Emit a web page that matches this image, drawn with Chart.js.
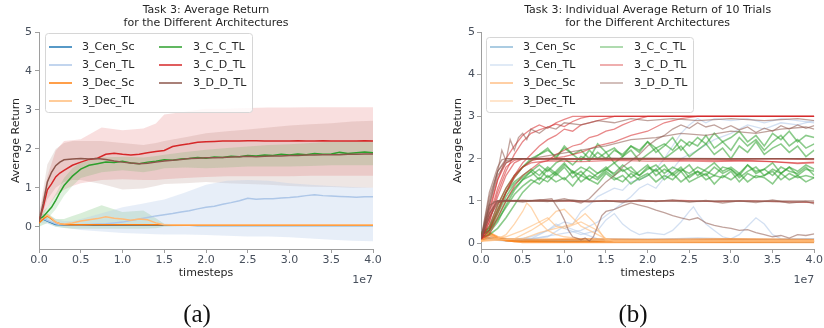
<!DOCTYPE html>
<html>
<head>
<meta charset="utf-8">
<script src="https://cdn.jsdelivr.net/npm/chart.js@4.4.1/dist/chart.umd.min.js"></script>
<style>
	html, body { margin: 0; padding: 0; background: #fff; }
	#wrap { position: relative; width: 824px; height: 328px; }
	.panel { position: absolute; top: 0; width: 412px; height: 300px; }
	.cap { position: absolute; top: 299px; width: 60px; text-align: center; font-family: 'Liberation Serif', serif; font-size: 25px; line-height: 30px; color: #111; }
</style>
</head>
<body>
<div id="wrap">
	<div class="panel" style="left:0"><canvas id="chart-a" width="412" height="300"></canvas></div>
	<div class="panel" style="left:412px"><canvas id="chart-b" width="412" height="300"></canvas></div>
	<div class="cap" style="left:167px">(a)</div>
	<div class="cap" style="left:603px">(b)</div>
</div>
<script>
// ── Data ─────────────────────────────────────────────────────────────

const NAMES  = [ '3_Cen_Sc', '3_Cen_TL', '3_Dec_Sc', '3_Dec_TL', '3_C_C_TL', '3_C_D_TL', '3_D_D_TL' ];
const COLORS = [ '#1f77b4', '#aec7e8', '#ff7f0e', '#ffbb78', '#2ca02c', '#d62728', '#8c564b' ];

const TITLE_A = [ 'Task 3: Average Return', 'for the Different Architectures' ];
const TITLE_B = [ 'Task 3: Individual Average Return of 10 Trials', 'for the Different Architectures' ];

const X_TICKS = [ 0, 0.5, 1, 1.5, 2, 2.5, 3, 3.5, 4 ];
const Y_TICKS = [ 0, 1, 2, 3, 4, 5 ];

// (a) mean curves, timesteps in units of 1e7
const X_MEAN = [
	0, 0.05, 0.1, 0.15, 0.2, 0.25, 0.3,
	0.4, 0.5, 0.6, 0.7, 0.8, 0.9, 1.0, 1.1, 1.2, 1.3,
	1.4, 1.5, 1.6, 1.7, 1.8, 1.9, 2.0, 2.1, 2.2, 2.3,
	2.4, 2.5, 2.6, 2.7, 2.8, 2.9, 3.0, 3.1, 3.2, 3.3,
	3.4, 3.5, 3.6, 3.7, 3.8, 3.9, 4.0,
];
const MEAN_CEN_SC = [
	0.2, 0.2, 0.15, 0.1, 0.06, 0.05, 0.04,
	0.04, 0.04, 0.04, 0.04, 0.04, 0.04, 0.04, 0.04, 0.04, 0.04,
	0.04, 0.04, 0.04, 0.04, 0.04, 0.03, 0.03, 0.03, 0.03, 0.03,
	0.03, 0.03, 0.03, 0.03, 0.03, 0.03, 0.03, 0.03, 0.03, 0.03,
	0.03, 0.03, 0.03, 0.03, 0.03, 0.03, 0.03,
];
const MEAN_CEN_TL = [
	0.2, 0.22, 0.16, 0.12, 0.08, 0.06, 0.05,
	0.05, 0.05, 0.06, 0.07, 0.08, 0.1, 0.12, 0.16, 0.2, 0.24,
	0.28, 0.31, 0.34, 0.38, 0.41, 0.46, 0.5, 0.53, 0.58, 0.62,
	0.67, 0.73, 0.71, 0.72, 0.72, 0.74, 0.75, 0.77, 0.8, 0.82,
	0.8, 0.79, 0.78, 0.77, 0.76, 0.77, 0.77,
];
const MEAN_DEC_SC = [
	0.1, 0.2, 0.28, 0.2, 0.12, 0.08, 0.06,
	0.05, 0.05, 0.05, 0.05, 0.05, 0.05, 0.05, 0.05, 0.05, 0.05,
	0.05, 0.05, 0.04, 0.04, 0.04, 0.04, 0.04, 0.04, 0.04, 0.04,
	0.04, 0.04, 0.04, 0.04, 0.04, 0.04, 0.04, 0.04, 0.04, 0.04,
	0.04, 0.04, 0.04, 0.04, 0.04, 0.04, 0.04,
];
const MEAN_DEC_TL = [
	0.15, 0.25, 0.3, 0.22, 0.12, 0.08, 0.07,
	0.1, 0.15, 0.18, 0.21, 0.26, 0.22, 0.2, 0.17, 0.2, 0.18,
	0.1, 0.05, 0.05, 0.05, 0.05, 0.05, 0.05, 0.05, 0.05, 0.05,
	0.05, 0.05, 0.05, 0.05, 0.05, 0.05, 0.05, 0.05, 0.05, 0.05,
	0.05, 0.05, 0.05, 0.05, 0.05, 0.05, 0.05,
];
const MEAN_C_C_TL = [
	0.2, 0.26, 0.38, 0.5, 0.68, 0.88, 1.06,
	1.3, 1.48, 1.58, 1.62, 1.66, 1.65, 1.68, 1.64, 1.62, 1.66,
	1.68, 1.72, 1.71, 1.74, 1.75, 1.78, 1.76, 1.79, 1.78, 1.81,
	1.8, 1.83, 1.82, 1.84, 1.83, 1.86, 1.84, 1.87, 1.85, 1.88,
	1.86, 1.87, 1.91, 1.88, 1.9, 1.92, 1.9,
];
const MEAN_C_D_TL = [
	0.15, 0.5, 0.95, 1.1, 1.28, 1.38, 1.45,
	1.58, 1.66, 1.73, 1.76, 1.86, 1.89, 1.86, 1.84, 1.86, 1.9,
	1.93, 1.96, 2.06, 2.1, 2.13, 2.17, 2.18, 2.19, 2.2, 2.2,
	2.2, 2.21, 2.21, 2.2, 2.2, 2.2, 2.2, 2.21, 2.2, 2.2,
	2.21, 2.2, 2.2, 2.2, 2.2, 2.21, 2.2,
];
const MEAN_D_D_TL = [
	0.12, 0.6, 1.15, 1.4, 1.57, 1.66, 1.72,
	1.74, 1.75, 1.74, 1.75, 1.73, 1.69, 1.66, 1.64, 1.62, 1.63,
	1.66, 1.69, 1.71, 1.73, 1.75, 1.76, 1.77, 1.77, 1.78, 1.79,
	1.8, 1.81, 1.8, 1.81, 1.82, 1.82, 1.83, 1.83, 1.84, 1.84,
	1.85, 1.85, 1.85, 1.86, 1.86, 1.87, 1.87,
];

// (a) shaded spread, upper / lower edges
const X_BAND = [ 0, 0.1, 0.2, 0.3, 0.4, 0.5, 0.75, 1.0, 1.25, 1.4, 1.5, 1.75, 2.0, 2.25, 2.5, 2.75, 3.0, 3.25, 3.5, 3.75, 4.0 ];
const BAND_CEN_TL_HI = [ 0.3, 0.3, 0.2, 0.15, 0.15, 0.2, 0.35, 0.5, 0.6, 0.66, 0.7, 0.88, 1.08, 1.18, 1.2, 1.18, 1.12, 1.08, 1.05, 1.02, 1.0 ];
const BAND_CEN_TL_LO = [ 0.1, 0.08, 0, -0.02, -0.05, -0.08, -0.12, -0.16, -0.18, -0.19, -0.2, -0.2, -0.21, -0.23, -0.25, -0.25, -0.27, -0.3, -0.33, -0.36, -0.37 ];
const BAND_DEC_TL_HI = [ 0.3, 0.35, 0.2, 0.2, 0.28, 0.35, 0.55, 0.38, 0.42, 0.22, 0.08, 0.06, 0.06, 0.06, 0.06, 0.06, 0.06, 0.06, 0.06, 0.06, 0.06 ];
const BAND_DEC_TL_LO = [ 0, 0.1, 0, -0.03, -0.05, -0.05, -0.05, -0.05, -0.05, -0.04, 0, 0.02, 0.02, 0.02, 0.02, 0.02, 0.02, 0.02, 0.02, 0.02, 0.02 ];
const BAND_C_C_TL_HI = [ 0.3, 0.5, 0.85, 1.25, 1.5, 1.65, 1.78, 1.8, 1.78, 1.82, 1.85, 1.92, 1.98, 2.02, 2.06, 2.1, 2.12, 2.15, 2.18, 2.2, 2.22 ];
const BAND_C_C_TL_LO = [ 0.1, 0.2, 0.45, 0.8, 1.05, 1.25, 1.4, 1.45, 1.4, 1.45, 1.5, 1.52, 1.5, 1.52, 1.55, 1.55, 1.55, 1.56, 1.58, 1.58, 1.58 ];
const BAND_C_D_TL_HI = [ 0.3, 1.3, 1.95, 2.2, 2.22, 2.25, 2.55, 2.48, 2.52, 2.65, 2.88, 2.95, 3.03, 3.03, 3.05, 3.06, 3.06, 3.07, 3.07, 3.07, 3.07 ];
const BAND_C_D_TL_LO = [ 0.05, 0.5, 0.8, 0.95, 1.05, 1.12, 1.2, 1.22, 1.2, 1.2, 1.22, 1.25, 1.28, 1.3, 1.3, 1.3, 1.3, 1.31, 1.31, 1.31, 1.31 ];
const BAND_D_D_TL_HI = [ 0.3, 1.6, 2.0, 2.15, 2.2, 2.2, 2.2, 2.15, 2.1, 2.15, 2.2, 2.3, 2.4, 2.45, 2.5, 2.55, 2.6, 2.63, 2.66, 2.7, 2.72 ];
const BAND_D_D_TL_LO = [ 0.05, 0.7, 1.0, 1.15, 1.2, 1.2, 1.1, 0.96, 0.98, 1.05, 1.1, 1.12, 1.15, 1.12, 1.1, 1.08, 1.05, 1.03, 1.02, 1.0, 1.0 ];

// (b) individual trials: [x, y] points
const TRIALS_CEN_SC = [
	[ [ 0, 0.2 ], [ 0.1, 0.12 ], [ 0.2, 0.1 ], [ 0.3, 0.09 ], [ 0.4, 0.07 ], [ 0.5, 0.04 ], [ 4.0, 0.03 ] ],
	[ [ 0, 0.15 ], [ 0.15, 0.1 ], [ 0.3, 0.06 ], [ 4.0, 0.04 ] ],
];
const TRIALS_CEN_TL = [
	[ [ 0, 0.15 ], [ 0.2, 0.1 ], [ 0.4, 0.08 ], [ 0.6, 0.15 ], [ 0.8, 0.3 ], [ 1.0, 0.5 ], [ 1.1, 0.45 ], [ 1.2, 0.75 ], [ 1.3, 0.9 ], [ 1.4, 1.1 ], [ 1.5, 1.2 ], [ 1.6, 1.3 ], [ 1.7, 1.25 ], [ 1.8, 1.45 ], [ 1.9, 1.5 ], [ 2.0, 1.6 ], [ 2.1, 1.75 ], [ 2.2, 2.0 ], [ 2.3, 2.3 ], [ 2.4, 2.6 ], [ 2.5, 2.8 ], [ 2.6, 2.95 ], [ 2.7, 2.85 ], [ 2.8, 2.95 ], [ 3.0, 2.9 ], [ 3.2, 2.95 ], [ 3.4, 2.85 ], [ 3.6, 2.95 ], [ 3.8, 2.9 ], [ 4.0, 2.85 ] ],
	[ [ 0, 0.15 ], [ 0.3, 0.1 ], [ 0.6, 0.1 ], [ 0.9, 0.2 ], [ 1.2, 0.3 ], [ 1.4, 0.5 ], [ 1.6, 0.8 ], [ 1.8, 1.1 ], [ 1.9, 1.3 ], [ 2.0, 1.4 ], [ 2.1, 1.3 ], [ 2.2, 1.55 ], [ 2.3, 1.75 ], [ 2.4, 2.0 ], [ 2.6, 2.2 ], [ 2.8, 2.45 ], [ 3.0, 2.6 ], [ 3.2, 2.8 ], [ 3.4, 2.7 ], [ 3.6, 2.85 ], [ 3.8, 2.8 ], [ 4.0, 2.9 ] ],
	[ [ 0, 0.1 ], [ 0.3, 0.05 ], [ 0.6, 0.1 ], [ 0.8, 0.3 ], [ 0.9, 0.45 ], [ 1.0, 0.35 ], [ 1.2, 0.2 ], [ 1.4, 0.3 ], [ 1.5, 0.55 ], [ 1.6, 0.7 ], [ 1.7, 0.45 ], [ 1.8, 0.3 ], [ 1.9, 0.2 ], [ 2.0, 0.25 ], [ 2.2, 0.2 ], [ 2.3, 0.3 ], [ 2.4, 0.5 ], [ 2.5, 0.75 ], [ 2.55, 0.86 ], [ 2.6, 0.7 ], [ 2.7, 0.45 ], [ 2.8, 0.3 ], [ 2.9, 0.15 ], [ 3.0, 0.1 ], [ 3.1, 0.2 ], [ 3.2, 0.4 ], [ 3.3, 0.6 ], [ 3.4, 0.45 ], [ 3.5, 0.2 ], [ 3.6, 0.1 ], [ 4.0, 0.1 ] ],
	[ [ 0, 0.1 ], [ 0.4, 0.05 ], [ 0.8, 0.15 ], [ 1.0, 0.4 ], [ 1.2, 0.25 ], [ 1.4, 0.1 ], [ 2.0, 0.08 ], [ 2.6, 0.12 ], [ 3.0, 0.1 ], [ 3.6, 0.08 ], [ 4.0, 0.1 ] ],
	[ [ 0, 0.1 ], [ 1.0, 0.08 ], [ 2.0, 0.1 ], [ 3.0, 0.08 ], [ 4.0, 0.1 ] ],
];
const TRIALS_DEC_SC = [
	[ [ 0, 0.1 ], [ 0.05, 0.15 ], [ 0.1, 0.22 ], [ 0.15, 0.18 ], [ 0.2, 0.12 ], [ 0.3, 0.06 ], [ 0.6, 0.05 ], [ 1.0, 0.07 ], [ 1.5, 0.05 ], [ 2.0, 0.06 ], [ 2.5, 0.05 ], [ 3.0, 0.07 ], [ 3.5, 0.05 ], [ 4.0, 0.06 ] ],
	[ [ 0, 0.05 ], [ 0.1, 0.18 ], [ 0.2, 0.1 ], [ 0.4, 0.04 ], [ 1.0, 0.03 ], [ 2.0, 0.04 ], [ 3.0, 0.03 ], [ 4.0, 0.04 ] ],
	[ [ 0, 0.05 ], [ 0.1, 0.12 ], [ 0.2, 0.08 ], [ 0.5, 0.02 ], [ 4.0, 0.02 ] ],
	[ [ 0, 0.1 ], [ 0.1, 0.25 ], [ 0.2, 0.15 ], [ 0.3, 0.1 ], [ 0.6, 0.08 ], [ 1.2, 0.1 ], [ 2.0, 0.08 ], [ 3.0, 0.1 ], [ 4.0, 0.08 ] ],
];
const TRIALS_DEC_TL = [
	[ [ 0, 0.05 ], [ 0.2, 0.1 ], [ 0.3, 0.2 ], [ 0.4, 0.45 ], [ 0.5, 0.75 ], [ 0.55, 0.95 ], [ 0.6, 0.85 ], [ 0.7, 0.5 ], [ 0.8, 0.3 ], [ 0.9, 0.2 ], [ 1.0, 0.15 ], [ 1.2, 0.1 ], [ 1.5, 0.05 ], [ 4.0, 0.05 ] ],
	[ [ 0, 0.05 ], [ 0.4, 0.1 ], [ 0.6, 0.3 ], [ 0.8, 0.55 ], [ 0.9, 0.75 ], [ 1.0, 0.8 ], [ 1.1, 0.6 ], [ 1.2, 0.4 ], [ 1.3, 0.3 ], [ 1.4, 0.2 ], [ 1.5, 0.1 ], [ 1.6, 0.05 ], [ 4.0, 0.05 ] ],
	[ [ 0, 0.05 ], [ 0.5, 0.1 ], [ 0.7, 0.25 ], [ 0.9, 0.35 ], [ 1.1, 0.45 ], [ 1.25, 0.7 ], [ 1.35, 0.5 ], [ 1.45, 0.2 ], [ 1.5, 0.06 ], [ 4.0, 0.06 ] ],
	[ [ 0, 0.05 ], [ 0.3, 0.15 ], [ 0.5, 0.3 ], [ 0.7, 0.5 ], [ 0.8, 0.6 ], [ 0.9, 0.4 ], [ 1.0, 0.35 ], [ 1.2, 0.5 ], [ 1.4, 0.3 ], [ 1.5, 0.1 ], [ 1.6, 0.04 ], [ 4.0, 0.04 ] ],
];
// C_C_TL trials are noisy, so they are sampled on a regular 0.1 grid
const X_TRIAL = [
	0, 0.1, 0.2, 0.3, 0.4, 0.5, 0.6, 0.7, 0.8, 0.9,
	1.0, 1.1, 1.2, 1.3, 1.4, 1.5, 1.6, 1.7, 1.8, 1.9,
	2.0, 2.1, 2.2, 2.3, 2.4, 2.5, 2.6, 2.7, 2.8, 2.9,
	3.0, 3.1, 3.2, 3.3, 3.4, 3.5, 3.6, 3.7, 3.8, 3.9, 4.0,
];
const TRIALS_C_C_TL = [
	[ 0.2, 0.3, 0.7, 1.1, 1.4, 1.55, 1.7, 1.5, 1.75, 1.6,
	  1.8, 1.55, 1.7, 1.5, 1.65, 1.8, 1.6, 1.75, 1.55, 1.7,
	  1.85, 1.6, 1.75, 1.65, 1.8, 1.55, 1.7, 1.6, 1.8, 1.65,
	  1.75, 1.55, 1.7, 1.8, 1.6, 1.75, 1.65, 1.8, 1.6, 1.75, 1.7 ],
	[ 0.15, 0.2, 0.35, 0.6, 0.9, 1.2, 1.4, 1.55, 1.45, 1.65,
	  1.5, 1.7, 1.45, 1.6, 1.5, 1.7, 1.55, 1.45, 1.65, 1.5,
	  1.6, 1.75, 1.5, 1.65, 1.45, 1.6, 1.7, 1.5, 1.6, 1.55,
	  1.7, 1.45, 1.65, 1.55, 1.6, 1.7, 1.5, 1.65, 1.55, 1.6, 1.55 ],
	[ 0.2, 0.4, 0.9, 1.3, 1.6, 1.8, 2.0, 2.1, 2.25, 2.0,
	  2.3, 2.1, 2.2, 2.0, 2.35, 2.15, 2.25, 2.05, 2.3, 2.2,
	  2.4, 2.15, 2.3, 2.5, 2.2, 2.4, 2.3, 2.55, 2.25, 2.4,
	  2.2, 2.5, 2.3, 2.45, 2.2, 2.4, 2.55, 2.3, 2.45, 2.25, 2.35 ],
	[ 0.2, 0.25, 0.5, 0.9, 1.25, 1.5, 1.7, 1.85, 1.7, 1.9,
	  2.0, 1.85, 2.05, 1.95, 2.15, 2.0, 2.2, 2.1, 2.3, 2.15,
	  2.4, 2.25, 2.35, 2.2, 2.45, 2.3, 2.5, 2.35, 2.6, 2.4,
	  2.5, 2.65, 2.4, 2.55, 2.3, 2.6, 2.45, 2.65, 2.4, 2.55, 2.5 ],
	[ 0.25, 0.35, 0.8, 1.2, 1.45, 1.6, 1.75, 1.6, 1.8, 1.65,
	  1.85, 1.7, 1.6, 1.8, 1.65, 1.75, 1.9, 1.7, 1.8, 1.6,
	  1.75, 1.85, 1.65, 1.8, 1.7, 1.85, 1.6, 1.75, 1.9, 1.7,
	  1.8, 1.65, 1.85, 1.7, 1.75, 1.9, 1.65, 1.8, 1.7, 1.85, 1.75 ],
	[ 0.2, 0.3, 0.55, 0.85, 1.15, 1.35, 1.5, 1.4, 1.6, 1.45,
	  1.55, 1.35, 1.6, 1.5, 1.4, 1.65, 1.5, 1.6, 1.4, 1.55,
	  1.65, 1.45, 1.6, 1.5, 1.7, 1.45, 1.55, 1.65, 1.4, 1.6,
	  1.5, 1.65, 1.45, 1.6, 1.55, 1.4, 1.65, 1.5, 1.6, 1.45, 1.55 ],
	[ 0.2, 0.35, 0.75, 1.2, 1.55, 1.8, 1.95, 2.1, 2.2, 2.05,
	  2.25, 2.1, 1.95, 2.2, 2.0, 2.15, 1.9, 2.05, 2.2, 1.95,
	  2.1, 2.25, 2.0, 2.15, 2.3, 2.05, 2.2, 2.35, 2.1, 2.25,
	  2.0, 2.3, 2.15, 2.4, 2.1, 2.25, 2.35, 2.15, 2.3, 2.05, 2.2 ],
	[ 0.2, 0.3, 0.6, 1.0, 1.3, 1.5, 1.6, 1.75, 1.55, 1.7,
	  1.9, 1.65, 1.8, 1.7, 1.55, 1.75, 1.65, 1.85, 1.7, 1.6,
	  1.8, 1.7, 1.85, 1.6, 1.75, 1.65, 1.8, 1.7, 1.6, 1.8,
	  1.75, 1.6, 1.85, 1.65, 1.75, 1.6, 1.8, 1.7, 1.65, 1.8, 1.6 ],
];
const TRIALS_C_D_TL = [
	[ [ 0, 0.1 ], [ 0.1, 0.6 ], [ 0.2, 1.3 ], [ 0.3, 1.8 ], [ 0.4, 1.96 ], [ 0.5, 2.0 ], [ 1.0, 1.99 ], [ 1.5, 2.0 ], [ 2.0, 1.99 ], [ 2.5, 2.0 ], [ 3.0, 1.99 ], [ 3.5, 2.0 ], [ 4.0, 1.98 ] ],
	[ [ 0, 0.1 ], [ 0.1, 0.4 ], [ 0.2, 0.9 ], [ 0.3, 1.3 ], [ 0.4, 1.6 ], [ 0.5, 1.8 ], [ 0.6, 1.9 ], [ 0.8, 1.95 ], [ 1.2, 1.93 ], [ 1.6, 1.96 ], [ 2.0, 1.94 ], [ 2.4, 1.95 ], [ 2.8, 1.93 ], [ 3.2, 1.96 ], [ 3.6, 1.92 ], [ 3.8, 1.9 ], [ 4.0, 1.92 ] ],
	[ [ 0, 0.1 ], [ 0.1, 0.6 ], [ 0.2, 0.97 ], [ 0.3, 1.0 ], [ 0.8, 1.01 ], [ 1.2, 0.98 ], [ 1.6, 1.0 ], [ 2.0, 0.99 ], [ 2.4, 1.01 ], [ 2.8, 0.98 ], [ 3.2, 1.0 ], [ 3.6, 0.98 ], [ 4.0, 0.96 ] ],
	[ [ 0, 0.1 ], [ 0.1, 0.5 ], [ 0.2, 1.2 ], [ 0.3, 1.7 ], [ 0.4, 2.1 ], [ 0.5, 2.4 ], [ 0.6, 2.6 ], [ 0.7, 2.68 ], [ 0.8, 2.75 ], [ 0.9, 2.82 ], [ 1.0, 2.76 ], [ 1.1, 2.88 ], [ 1.2, 2.96 ], [ 1.3, 3.0 ], [ 4.0, 3.0 ] ],
	[ [ 0, 0.1 ], [ 0.1, 0.3 ], [ 0.2, 0.8 ], [ 0.3, 1.2 ], [ 0.4, 1.6 ], [ 0.5, 1.9 ], [ 0.6, 2.1 ], [ 0.7, 2.3 ], [ 0.8, 2.45 ], [ 0.9, 2.55 ], [ 1.0, 2.7 ], [ 1.1, 2.65 ], [ 1.2, 2.8 ], [ 1.3, 2.85 ], [ 1.4, 2.9 ], [ 1.5, 2.95 ], [ 1.6, 3.0 ], [ 4.0, 3.0 ] ],
	[ [ 0, 0.1 ], [ 0.1, 0.2 ], [ 0.2, 0.6 ], [ 0.3, 1.0 ], [ 0.4, 1.35 ], [ 0.5, 1.6 ], [ 0.6, 1.75 ], [ 0.7, 1.9 ], [ 0.8, 1.95 ], [ 0.9, 2.1 ], [ 1.0, 2.2 ], [ 1.1, 2.3 ], [ 1.2, 2.35 ], [ 1.3, 2.5 ], [ 1.4, 2.55 ], [ 1.5, 2.65 ], [ 1.6, 2.7 ], [ 1.7, 2.8 ], [ 1.8, 2.88 ], [ 1.9, 2.95 ], [ 2.0, 3.0 ], [ 4.0, 3.0 ] ],
	[ [ 0, 0.1 ], [ 0.1, 0.3 ], [ 0.2, 0.7 ], [ 0.3, 1.2 ], [ 0.4, 1.55 ], [ 0.5, 1.8 ], [ 0.6, 1.95 ], [ 0.7, 2.0 ], [ 0.9, 2.02 ], [ 1.0, 2.05 ], [ 1.2, 2.15 ], [ 1.4, 2.3 ], [ 1.6, 2.4 ], [ 1.8, 2.55 ], [ 2.0, 2.65 ], [ 2.1, 2.75 ], [ 2.2, 2.85 ], [ 2.4, 2.95 ], [ 2.6, 3.0 ], [ 4.0, 3.0 ] ],
	[ [ 0, 0.1 ], [ 0.1, 0.5 ], [ 0.2, 1.1 ], [ 0.3, 1.6 ], [ 0.4, 1.9 ], [ 0.5, 2.0 ], [ 1.0, 2.0 ], [ 1.5, 1.98 ], [ 2.0, 2.0 ], [ 2.5, 1.97 ], [ 3.0, 1.95 ], [ 3.5, 1.93 ], [ 3.8, 1.88 ], [ 4.0, 1.9 ] ],
	[ [ 0, 0.1 ], [ 0.1, 0.8 ], [ 0.2, 1.5 ], [ 0.3, 2.0 ], [ 0.4, 2.3 ], [ 0.5, 2.55 ], [ 0.6, 2.7 ], [ 0.7, 2.8 ], [ 0.8, 2.72 ], [ 0.9, 2.85 ], [ 1.0, 2.93 ], [ 1.1, 3.0 ], [ 4.0, 3.0 ] ],
	[ [ 0, 0.1 ], [ 0.1, 0.7 ], [ 0.2, 1.5 ], [ 0.3, 1.9 ], [ 0.4, 2.0 ], [ 4.0, 2.0 ] ],
];
const TRIALS_D_D_TL = [
	[ [ 0, 0.1 ], [ 0.1, 1.2 ], [ 0.2, 1.8 ], [ 0.25, 1.97 ], [ 0.3, 2.0 ], [ 1.0, 2.0 ], [ 2.0, 2.01 ], [ 3.0, 2.0 ], [ 4.0, 2.0 ] ],
	[ [ 0, 0.1 ], [ 0.1, 0.9 ], [ 0.2, 1.6 ], [ 0.3, 1.9 ], [ 0.4, 2.0 ], [ 1.2, 1.99 ], [ 2.4, 2.0 ], [ 3.6, 2.0 ], [ 4.0, 1.99 ] ],
	[ [ 0, 0.1 ], [ 0.1, 0.8 ], [ 0.15, 0.98 ], [ 0.2, 1.0 ], [ 1.0, 1.0 ], [ 2.0, 1.0 ], [ 3.0, 1.0 ], [ 4.0, 1.0 ] ],
	[ [ 0, 0.1 ], [ 0.1, 0.6 ], [ 0.2, 0.95 ], [ 0.3, 1.02 ], [ 0.5, 0.97 ], [ 0.7, 1.03 ], [ 0.9, 0.98 ], [ 1.1, 1.02 ], [ 1.3, 0.97 ], [ 1.5, 1.01 ], [ 1.7, 0.96 ], [ 1.9, 1.02 ], [ 2.1, 0.98 ], [ 2.3, 1.03 ], [ 2.5, 0.97 ], [ 2.7, 1.01 ], [ 2.9, 0.95 ], [ 3.1, 1.0 ], [ 3.3, 0.96 ], [ 3.5, 1.02 ], [ 3.7, 0.95 ], [ 3.9, 0.99 ], [ 4.0, 0.93 ] ],
	[ [ 0, 0.1 ], [ 0.1, 0.9 ], [ 0.2, 1.7 ], [ 0.25, 2.2 ], [ 0.3, 1.95 ], [ 0.35, 2.45 ], [ 0.4, 2.2 ], [ 0.45, 2.5 ], [ 0.5, 2.6 ], [ 0.55, 2.45 ], [ 0.6, 2.7 ], [ 0.7, 2.6 ], [ 0.8, 2.75 ], [ 0.9, 2.7 ], [ 1.0, 2.85 ], [ 1.2, 2.8 ], [ 1.4, 2.9 ], [ 1.6, 2.85 ], [ 1.8, 2.95 ], [ 2.0, 2.9 ], [ 2.3, 2.95 ], [ 2.6, 2.9 ], [ 3.0, 2.95 ], [ 3.4, 2.9 ], [ 3.8, 2.95 ], [ 4.0, 2.9 ] ],
	[ [ 0, 0.1 ], [ 0.1, 0.7 ], [ 0.2, 1.0 ], [ 0.5, 1.02 ], [ 0.8, 0.98 ], [ 1.0, 1.05 ], [ 1.2, 0.95 ], [ 1.3, 1.05 ], [ 1.4, 1.25 ], [ 1.5, 1.45 ], [ 1.6, 1.6 ], [ 1.7, 1.8 ], [ 1.8, 1.95 ], [ 1.9, 2.1 ], [ 2.0, 2.3 ], [ 2.1, 2.45 ], [ 2.2, 2.55 ], [ 2.3, 2.7 ], [ 2.4, 2.8 ], [ 2.5, 2.72 ], [ 2.6, 2.85 ], [ 2.7, 2.75 ], [ 2.8, 2.8 ], [ 2.9, 2.7 ], [ 3.0, 2.78 ], [ 3.1, 2.68 ], [ 3.2, 2.75 ], [ 3.3, 2.62 ], [ 3.4, 2.72 ], [ 3.5, 2.65 ], [ 3.6, 2.78 ], [ 3.7, 2.7 ], [ 3.8, 2.8 ], [ 3.9, 2.72 ], [ 4.0, 2.78 ] ],
	[ [ 0, 0.1 ], [ 0.1, 0.7 ], [ 0.2, 1.0 ], [ 0.5, 1.0 ], [ 0.7, 1.02 ], [ 0.85, 1.05 ], [ 0.9, 0.9 ], [ 0.95, 0.75 ], [ 1.0, 0.55 ], [ 1.05, 0.3 ], [ 1.1, 0.15 ], [ 1.2, 0.08 ], [ 1.25, 0.12 ], [ 1.3, 0.05 ], [ 1.35, 0.15 ], [ 1.4, 0.4 ], [ 1.45, 0.65 ], [ 1.5, 0.75 ], [ 1.6, 0.8 ], [ 1.7, 0.88 ], [ 1.8, 0.95 ], [ 1.9, 0.9 ], [ 2.0, 0.85 ], [ 2.1, 0.78 ], [ 2.2, 0.72 ], [ 2.3, 0.65 ], [ 2.4, 0.6 ], [ 2.5, 0.55 ], [ 2.6, 0.6 ], [ 2.7, 0.48 ], [ 2.8, 0.42 ], [ 2.9, 0.38 ], [ 3.0, 0.35 ], [ 3.1, 0.3 ], [ 3.2, 0.32 ], [ 3.3, 0.25 ], [ 3.4, 0.2 ], [ 3.5, 0.15 ], [ 3.6, 0.18 ], [ 3.7, 0.12 ], [ 3.8, 0.2 ], [ 3.9, 0.18 ], [ 4.0, 0.22 ] ],
	[ [ 0, 0.1 ], [ 0.1, 1.0 ], [ 0.2, 1.7 ], [ 0.3, 1.95 ], [ 0.4, 2.0 ], [ 1.0, 1.98 ], [ 1.5, 2.01 ], [ 2.0, 1.99 ], [ 2.5, 2.0 ], [ 3.0, 1.98 ], [ 3.5, 2.0 ], [ 4.0, 2.0 ] ],
	[ [ 0, 0.1 ], [ 0.1, 0.9 ], [ 0.2, 1.0 ], [ 0.6, 0.99 ], [ 1.0, 1.01 ], [ 1.5, 0.99 ], [ 2.0, 1.0 ], [ 2.5, 0.98 ], [ 3.0, 1.0 ], [ 3.5, 0.98 ], [ 4.0, 0.97 ] ],
	[ [ 0, 0.1 ], [ 0.1, 1.1 ], [ 0.2, 1.7 ], [ 0.3, 2.0 ], [ 0.6, 2.0 ], [ 0.9, 2.1 ], [ 1.2, 2.2 ], [ 1.5, 2.3 ], [ 1.8, 2.45 ], [ 2.1, 2.5 ], [ 2.4, 2.6 ], [ 2.7, 2.55 ], [ 3.0, 2.65 ], [ 3.3, 2.6 ], [ 3.6, 2.7 ], [ 3.9, 2.75 ], [ 4.0, 2.7 ] ],
];

( function () {
	'use strict';

	var TEXT = '#262626';
	var TICK = '#474f5c';
	var AXIS = '#9e9e9e';

	Chart.defaults.font.family = "'DejaVu Sans', sans-serif";
	Chart.defaults.font.size = 11;
	Chart.defaults.color = TEXT;

	// ── Helpers ──────────────────────────────────────────────────────────

	function rgba( hex, a ) {
		var n = parseInt( hex.slice( 1 ), 16 );
		return 'rgba(' + ( n >> 16 ) + ',' + ( ( n >> 8 ) & 255 ) + ',' + ( n & 255 ) + ',' + a + ')';
	}

	function zip( xs, ys ) {
		return ys.map( function ( y, i ) { return { x: xs[ i ], y: y }; } );
	}

	function fromPairs( list ) {
		return list.map( function ( p ) { return { x: p[ 0 ], y: p[ 1 ] }; } );
	}

	function lineSet( data, color, width, order ) {
		return {
			data: data,
			borderColor: color,
			borderWidth: width,
			pointRadius: 0,
			tension: 0,
			fill: false,
			order: order,
		};
	}

	// titles, legend box and the 1e7 offset label
	var decor = {
		id: 'decor',
		afterDraw: function ( chart, args, o ) {
			var ctx = chart.ctx;
			var ca = chart.chartArea;
			var cx = ( ca.left + ca.right ) / 2;

			ctx.save();
			ctx.font = "11px 'DejaVu Sans'";
			ctx.fillStyle = TEXT;
			ctx.textAlign = 'center';
			ctx.textBaseline = 'middle';
			ctx.fillText( o.title[ 0 ], cx, 10 );
			ctx.fillText( o.title[ 1 ], cx, 23 );

			ctx.fillStyle = TICK;
			ctx.textAlign = 'right';
			ctx.fillText( '1e7', ca.right, ca.bottom + 31 );

			// legend
			var bx = ca.left + o.dx, by = ca.top + o.dy;
			var bh = ca.top + 80 - by;
			ctx.beginPath();
			ctx.roundRect( bx + 0.5, by + 0.5, 207, bh, 3 );
			ctx.fillStyle = 'rgba(255,255,255,0.8)';
			ctx.fill();
			ctx.strokeStyle = '#d6d6d6';
			ctx.lineWidth = 1;
			ctx.stroke();

			ctx.textAlign = 'left';
			NAMES.forEach( function ( name, i ) {
				var col = i < 4 ? 0 : 1;
				var row = i < 4 ? i : i - 4;
				var y = ca.top + 15 + row * 18;
				var sx = bx + ( col ? 114 : 4 );
				ctx.beginPath();
				ctx.moveTo( sx, y );
				ctx.lineTo( sx + 23, y );
				ctx.strokeStyle = rgba( COLORS[ i ], o.alpha );
				ctx.lineWidth = 1.5;
				ctx.stroke();
				ctx.fillStyle = TEXT;
				ctx.fillText( name, bx + ( col ? 148 : 37 ), y );
			} );
			ctx.restore();
		},
	};

	function buildOptions( yMin, pad, title, legend ) {
		return {
			responsive: false,
			animation: false,
			events: [],
			layout: { padding: pad },
			plugins: {
				legend: { display: false },
				tooltip: { enabled: false },
				decor: { title: title, dx: legend.dx, dy: legend.dy, alpha: legend.alpha },
			},
			scales: {
				x: {
					type: 'linear',
					min: 0,
					max: 4,
					afterBuildTicks: function ( s ) { s.ticks = X_TICKS.map( function ( v ) { return { value: v }; } ); },
					afterFit: function ( s ) { s.height = 35; },
					ticks: {
						color: TICK,
						padding: 1,
						maxRotation: 0,
						callback: function ( v ) { return v.toFixed( 1 ); },
					},
					grid: { drawOnChartArea: false, drawTicks: true, tickLength: 4, color: AXIS },
					border: { display: true, color: AXIS, width: 1 },
					title: { display: true, text: 'timesteps', color: TEXT, padding: { top: 0, bottom: 4 } },
				},
				y: {
					type: 'linear',
					min: yMin,
					max: 5,
					afterBuildTicks: function ( s ) { s.ticks = Y_TICKS.map( function ( v ) { return { value: v }; } ); },
					afterFit: function ( s ) { s.width = 33; },
					ticks: { color: TICK, padding: 3 },
					grid: { drawOnChartArea: false, drawTicks: true, tickLength: 4, color: AXIS },
					border: { display: true, color: AXIS, width: 1 },
					title: { display: true, text: 'Average Return', color: TEXT, padding: { top: 4, bottom: 0 } },
				},
			},
		};
	}

	// ── Charts ───────────────────────────────────────────────────────────

	function buildMeanChart() {
		var means = [ MEAN_CEN_SC, MEAN_CEN_TL, MEAN_DEC_SC, MEAN_DEC_TL, MEAN_C_C_TL, MEAN_C_D_TL, MEAN_D_D_TL ];
		var bands = [
			[ BAND_CEN_TL_HI, BAND_CEN_TL_LO, rgba( COLORS[ 1 ], 0.3 ) ],
			[ BAND_DEC_TL_HI, BAND_DEC_TL_LO, rgba( COLORS[ 4 ], 0.18 ) ],
			[ BAND_C_C_TL_HI, BAND_C_C_TL_LO, rgba( COLORS[ 4 ], 0.15 ) ],
			[ BAND_C_D_TL_HI, BAND_C_D_TL_LO, rgba( COLORS[ 5 ], 0.15 ) ],
			[ BAND_D_D_TL_HI, BAND_D_D_TL_LO, rgba( COLORS[ 6 ], 0.15 ) ],
		];
		var datasets = [];

		bands.forEach( function ( b ) {
			datasets.push( lineSet( zip( X_BAND, b[ 0 ] ), 'rgba(0,0,0,0)', 0, 30 ) );
			var lo = lineSet( zip( X_BAND, b[ 1 ] ), 'rgba(0,0,0,0)', 0, 30 );
			lo.fill = '-1';
			lo.backgroundColor = b[ 2 ];
			datasets.push( lo );
		} );
		means.forEach( function ( m, i ) {
			datasets.push( lineSet( zip( X_MEAN, m ), COLORS[ i ], 1.5, 10 - i ) );
		} );

		var pad = { left: 6, top: 32, right: 39, bottom: 16 };
		var opts = buildOptions( -0.57, pad, TITLE_A, { dx: 6, dy: 1, alpha: 1 } );

		new Chart( document.getElementById( 'chart-a' ), {
			type: 'line',
			data: { datasets: datasets },
			options: opts,
			plugins: [ decor ],
		} );
	}

	function buildTrialChart() {
		var groups = [ TRIALS_CEN_SC, TRIALS_CEN_TL, TRIALS_DEC_SC, TRIALS_DEC_TL, TRIALS_C_C_TL, TRIALS_C_D_TL, TRIALS_D_D_TL ];
		var alphas = [ 0.5, 0.55, 0.6, 0.6, 0.55, 0.55, 0.55 ];
		var widths = [ 1.3, 1.3, 1.8, 1.3, 1.6, 1.3, 1.3 ];
		var datasets = [];

		groups.forEach( function ( trials, gi ) {
			trials.forEach( function ( t ) {
				var data = typeof t[ 0 ] === 'number' ? zip( X_TRIAL, t ) : fromPairs( t );
				datasets.push( lineSet( data, rgba( COLORS[ gi ], alphas[ gi ] ), widths[ gi ], 10 - gi ) );
			} );
		} );

		var pad = { left: 36, top: 32, right: 9, bottom: 16 };
		var opts = buildOptions( -0.14, pad, TITLE_B, { dx: 5, dy: 5, alpha: 0.5 } );
		opts.scales.y.ticks.padding = 2;

		new Chart( document.getElementById( 'chart-b' ), {
			type: 'line',
			data: { datasets: datasets },
			options: opts,
			plugins: [ decor ],
		} );
	}

	// ── Init ─────────────────────────────────────────────────────────────

	buildMeanChart();
	buildTrialChart();
} )();
</script>
</body>
</html>
